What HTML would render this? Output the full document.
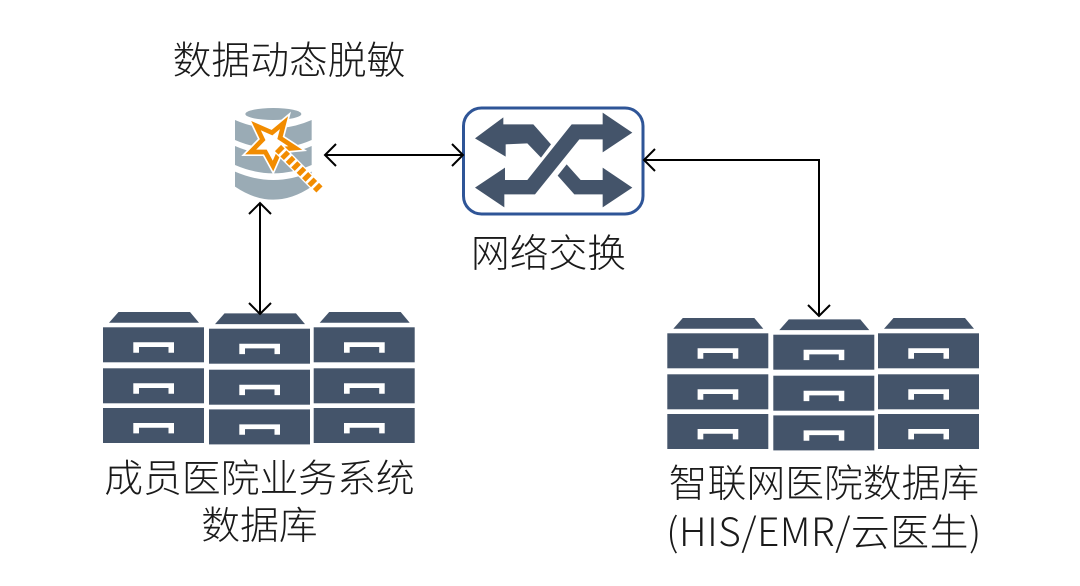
<!DOCTYPE html>
<html><head><meta charset="utf-8">
<style>
html,body{margin:0;padding:0;background:#fff}
svg{display:block}
text{font-family:"Liberation Sans","Noto Sans CJK SC",sans-serif;font-size:38.8px;fill:#1a1a1a;font-weight:300;text-anchor:middle}
text.m{font-family:"Noto Sans CJK SC","Liberation Sans",sans-serif;font-weight:300;letter-spacing:.55px}
</style></head>
<body>
<svg width="1080" height="586" viewBox="0 0 1080 586" xmlns="http://www.w3.org/2000/svg">
<defs>
<g id="drawer">
<rect x="0" y="0" width="101" height="35" fill="#44546a"/>
<path d="M30.3 15H71V25.4H65.5V19.7H36V25.4H30.3Z" fill="#fff"/>
</g>
<g id="col">
<path d="M6 -4.6H96L87 -15.3H15.5Z" fill="#44546a"/>
<use href="#drawer" x="0" y="0"/>
<use href="#drawer" x="0" y="41"/>
<use href="#drawer" x="0" y="80.7"/>
</g>
<g id="cab">
<use href="#col" x="0" y="0"/>
<use href="#col" x="106" y="1.4"/>
<use href="#col" x="210.7" y="0"/>
</g>
</defs>
<rect width="1080" height="586" fill="#fff"/>

<use href="#cab" x="103" y="327.3"/>
<use href="#cab" x="667.3" y="333.3"/>

<!-- switch -->
<rect x="463.5" y="108" width="179.5" height="106" rx="18" fill="#fff" stroke="#2f5597" stroke-width="3"/>
<g transform="translate(450 95) scale(.33333)" fill="#44546a">
<path d="M75 130L160 67V88H250L303 148L273 188L232 145L167 148V185Z"/>
<path d="M547 113L458 53V88H365L232 255H165V218L75 278L163 337V298H255L388 133H458V172Z"/>
<path d="M350 208L323 242L373 298H458V337L547 278L458 218V255H392Z"/>
</g>

<!-- database with wand -->
<g transform="translate(210 90) scale(.33333)">
<g fill="#9aabb5">
<ellipse cx="190" cy="72" rx="84" ry="18"/>
<path d="M75 90Q190 140 305 90V150Q190 200 75 150Z"/>
<path d="M75 168Q190 218 305 168V225Q190 275 75 225Z"/>
<path d="M75 245Q190 295 305 245V290Q190 368 75 290Z"/>
</g>
<path d="M138 107L186 128L222 98L210 144L256 174L211 178L189 228L166 186L122 186L158 149Z" fill="#fff" stroke="#fff" stroke-width="24" stroke-linejoin="miter"/>
<path d="M138 107L186 128L222 98L210 144L256 174L211 178L189 228L166 186L122 186L158 149Z" fill="#fff" stroke="#f28c00" stroke-width="14" stroke-linejoin="miter"/>
<path d="M204 174L330 300" stroke="#fff" stroke-width="34" fill="none"/>
<path d="M204 174L332 302" stroke="#f28c00" stroke-width="26" stroke-dasharray="15 8" fill="none"/>
</g>

<!-- connectors -->
<g fill="none" stroke="#000" stroke-width="2">
<path d="M325 155H463"/>
<path d="M336 144L325 155L336 166M452 144L463 155L452 166"/>
<path d="M260 203V314"/>
<path d="M249 214L260 203L271 214M249 303L260 314L271 303"/>
<path d="M644 160H819V316"/>
<path d="M655 149L644 160L655 171M808 305L819 316L830 305"/>
</g>

<text x="289" y="74">数据动态脱敏</text>
<text x="548.5" y="267">网络交换</text>
<text x="259.5" y="492">成员医院业务系统</text>
<text x="259.5" y="539">数据库</text>
<text x="824" y="497">智联网医院数据库</text>
<text class="m" x="824" y="546">(HIS/EMR/云医生)</text>
</svg>
</body></html>
